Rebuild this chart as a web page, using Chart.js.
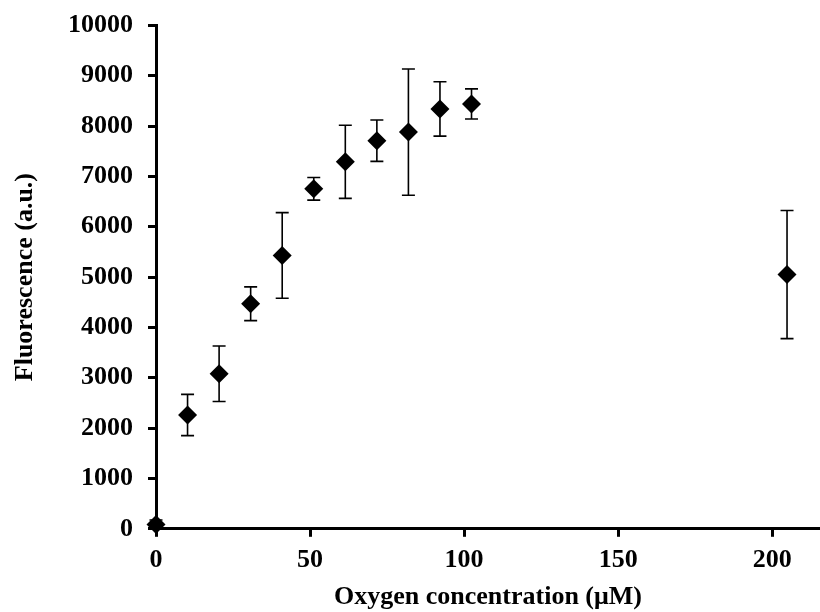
<!DOCTYPE html>
<html>
<head>
<meta charset="utf-8">
<script src="https://cdn.jsdelivr.net/npm/chart.js@4/dist/chart.umd.min.js"></script>
<style>
  html, body { margin: 0; padding: 0; background: #ffffff; }
  #wrap { width: 820px; height: 612px; }
</style>
</head>
<body>
<div id="wrap"><canvas id="c" width="820" height="612"></canvas></div>
<script>
const oxygen = [0, 10.24, 20.48, 30.72, 40.96, 51.2, 61.44, 71.68, 81.92, 92.16, 102.4, 204.8];
const fluorescence = [85, 2260, 3080, 4470, 5430, 6755, 7290, 7710, 7880, 8340, 8440, 5050];
const errors = [90, 410, 550, 335, 850, 225, 727, 412, 1254, 540, 300, 1272];
const xTicks = [0, 50, 100, 150, 200];
const yTicks = [0, 1000, 2000, 3000, 4000, 5000, 6000, 7000, 8000, 9000, 10000];

const points = oxygen.map((x, i) => ({ x: x, y: fluorescence[i] }));

const errorBars = {
  id: 'errorBars',
  beforeDatasetsDraw(chart) {
    const ctx = chart.ctx;
    const xs = chart.scales.x, ys = chart.scales.y;
    ctx.save();
    ctx.strokeStyle = '#000';
    ctx.lineWidth = 1.6;
    oxygen.forEach((xv, i) => {
      const px = xs.getPixelForValue(xv);
      const top = ys.getPixelForValue(fluorescence[i] + errors[i]);
      const bot = ys.getPixelForValue(Math.max(0, fluorescence[i] - errors[i]));
      ctx.beginPath();
      ctx.moveTo(px, top); ctx.lineTo(px, bot);
      ctx.moveTo(px - 6.5, top); ctx.lineTo(px + 6.5, top);
      ctx.moveTo(px - 6.5, bot); ctx.lineTo(px + 6.5, bot);
      ctx.stroke();
    });
    ctx.restore();
  }
};

const fam = '"Liberation Serif", "Times New Roman", serif';
const font = { family: fam, weight: 'bold', size: 26 };
const yFont = { family: fam, weight: 'bold', size: 26, lineHeight: 0.8 };
const titleFont = { family: fam, weight: 'bold', size: 26, lineHeight: 1.0 };

new Chart(document.getElementById('c'), {
  type: 'scatter',
  data: {
    datasets: [{
      data: points,
      pointStyle: 'rectRot',
      pointRadius: 9.5,
      pointHoverRadius: 9.5,
      backgroundColor: '#000',
      borderColor: '#000',
      borderWidth: 0,
      clip: false
    }]
  },
  options: {
    responsive: false,
    animation: false,
    events: [],
    layout: { autoPadding: false, padding: { top: 4, right: 0, left: 8, bottom: 0 } },
    plugins: { legend: { display: false }, tooltip: { enabled: false } },
    scales: {
      x: {
        type: 'linear',
        min: 0,
        max: 215.5,
        afterBuildTicks: (s) => { s.ticks = xTicks.map(v => ({ value: v })); },
        grid: { drawOnChartArea: false, drawTicks: true, tickLength: 8, tickWidth: 3, tickColor: '#000' },
        border: { display: true, color: '#000', width: 3 },
        ticks: { color: '#000', font: font, padding: 8, maxRotation: 0, callback: (v) => String(v) },
        title: { display: true, text: 'Oxygen concentration (μM)', color: '#000', font: titleFont, padding: { top: 0, bottom: 2 } }
      },
      y: {
        type: 'linear',
        min: 0,
        max: 10000,
        afterBuildTicks: (s) => { s.ticks = yTicks.map(v => ({ value: v })); },
        grid: { drawOnChartArea: false, drawTicks: true, tickLength: 8, tickWidth: 3, tickColor: '#000' },
        border: { display: true, color: '#000', width: 3 },
        ticks: { color: '#000', font: yFont, padding: 15, callback: (v) => String(v) },
        title: { display: true, text: 'Fluorescence (a.u.)', color: '#000', font: titleFont, padding: { top: 4, bottom: 15 } }
      }
    }
  },
  plugins: [errorBars]
});
</script>
</body>
</html>
